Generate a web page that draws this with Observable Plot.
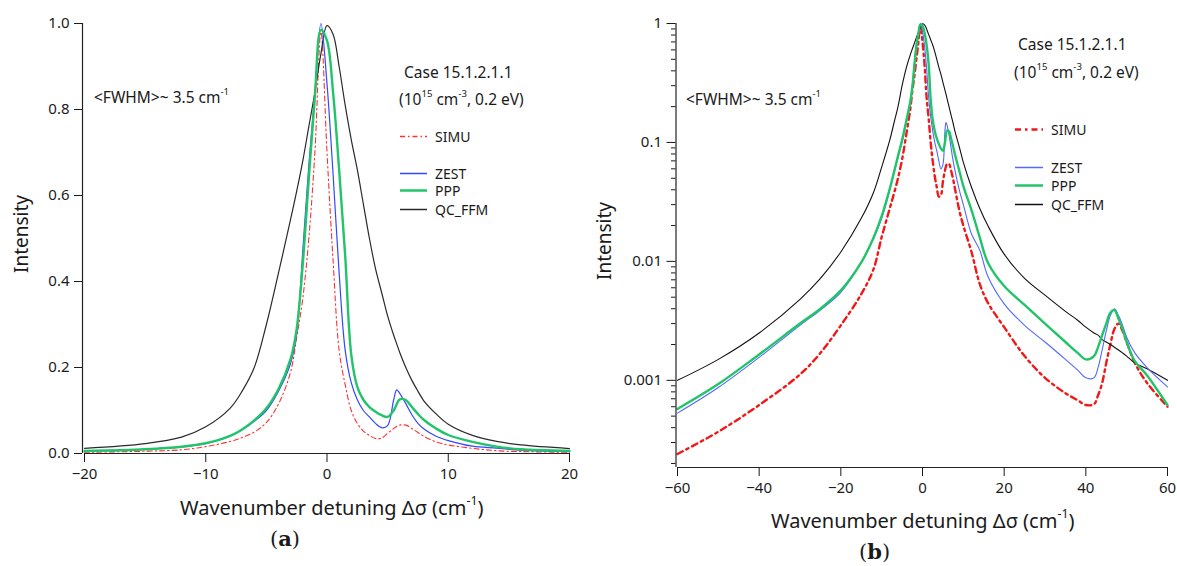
<!DOCTYPE html>
<html><head><meta charset="utf-8">
<script src="https://cdn.jsdelivr.net/npm/d3@7"></script>
<script src="https://cdn.jsdelivr.net/npm/@observablehq/plot@0.6"></script>
<style>
body{margin:0;background:#fff;}
#wrap{position:relative;width:1177px;height:566px;overflow:hidden;font-family:"Noto Sans",sans-serif;color:#1a1a1a;}
.t{position:absolute;white-space:nowrap;line-height:1;transform:translateY(-50%);}
.panel{position:absolute;top:0;}
sup{font-size:0.62em;position:relative;top:-0.2em;vertical-align:super;line-height:0;}
.leg{position:absolute;display:flex;align-items:center;white-space:nowrap;transform:translateY(-50%);font-size:14px;}
</style></head><body><div id="wrap"></div><script>
// ---- data ----
const xs = [-60,-50,-40,-30,-25,-20,-15,-12,-10,-8,-7,-6,-5,-4,-3,-2.5,-2,-1.5,-1,-0.5,0,0.5,1,1.5,2,2.5,3,3.5,4,4.5,5,5.5,5.75,6,6.5,7,7.5,8,9,10,12,14,16,20,25,30,35,38,40,42,43,44,45,46,47,48,49,50,52,55,60];
const simu  = [0.00024,0.00037,0.00062,0.00112,0.0017,0.0029,0.0053,0.0086,0.016,0.028,0.037,0.05,0.072,0.115,0.19,0.27,0.36,0.5,0.7,0.98,0.7,0.45,0.24,0.16,0.1,0.07,0.052,0.042,0.035,0.036,0.047,0.058,0.063,0.066,0.066,0.058,0.049,0.04,0.027,0.02,0.012,0.0065,0.0045,0.0028,0.0016,0.00105,0.00078,0.00068,0.00062,0.00063,0.00075,0.00095,0.0014,0.002,0.0027,0.003,0.0026,0.0021,0.0014,0.00095,0.0006];
const zest  = [0.00053,0.00087,0.00156,0.0029,0.0039,0.0055,0.0098,0.0155,0.023,0.04,0.055,0.075,0.1,0.145,0.21,0.28,0.47,0.67,0.84,1.0,0.86,0.65,0.42,0.24,0.165,0.125,0.1,0.085,0.07,0.06,0.065,0.125,0.148,0.14,0.116,0.09,0.07,0.057,0.04,0.03,0.017,0.0125,0.0075,0.0044,0.0029,0.0021,0.0015,0.00122,0.00105,0.00105,0.00128,0.0018,0.0026,0.0035,0.004,0.0035,0.0029,0.0023,0.0017,0.00128,0.00088];
const ppp   = [0.000575,0.00093,0.00165,0.003,0.004,0.0057,0.0098,0.0158,0.024,0.041,0.056,0.077,0.105,0.15,0.22,0.29,0.44,0.64,0.83,0.985,0.96,0.84,0.66,0.46,0.23,0.155,0.125,0.108,0.097,0.089,0.085,0.1,0.115,0.126,0.124,0.108,0.092,0.078,0.058,0.043,0.027,0.016,0.0098,0.0062,0.0043,0.003,0.0021,0.0017,0.0015,0.0016,0.0019,0.0024,0.003,0.0037,0.0039,0.0033,0.0027,0.0021,0.00145,0.0011,0.00062];
const qcffm = [0.001,0.0015,0.0025,0.0048,0.0072,0.012,0.023,0.038,0.062,0.105,0.145,0.2,0.3,0.42,0.545,0.61,0.68,0.76,0.84,0.93,0.995,0.975,0.9,0.81,0.73,0.66,0.58,0.5,0.43,0.375,0.32,0.275,0.255,0.235,0.2,0.17,0.145,0.122,0.092,0.068,0.042,0.028,0.02,0.0115,0.0072,0.0052,0.0038,0.0032,0.0028,0.0025,0.0024,0.0022,0.0021,0.002,0.0019,0.0018,0.0017,0.0016,0.0014,0.00125,0.001];
const seriesNames = ["SIMU","ZEST","PPP","QC_FFM"];
const seriesValues = [simu, zest, ppp, qcffm];
const xDomainA = [-20, 20], xTicksA = [-20,-10,0,10,20];
const yDomainA = [0, 1], yTicksA = [0,0.2,0.4,0.6,0.8,1.0];
const xDomainB = [-60, 60], xTicksB = [-60,-40,-20,0,20,40,60];
const yDomainB = [0.000185, 1], yTicksB = [0.001,0.01,0.1,1];
const minorMultiples = [2,3,4,5,6,7,8,9], minorDecades = [0.0001,0.001,0.01,0.1];

// ---- styles ----
const styleA = {
  SIMU:{stroke:"#ff3030",w:1.1,dash:"5,3,1.5,3"},
  ZEST:{stroke:"#3347ff",w:1.2,dash:null},
  PPP:{stroke:"#22c46a",w:2.4,dash:null},
  QC_FFM:{stroke:"#2a2a2a",w:1.2,dash:null}};
const styleB = {
  SIMU:{stroke:"#f01818",w:2.4,dash:"6,4,2.5,4"},
  ZEST:{stroke:"#5468ff",w:1.1,dash:null},
  PPP:{stroke:"#22c46a",w:2.4,dash:null},
  QC_FFM:{stroke:"#111",w:1.1,dash:null}};

const data = seriesNames.flatMap((s,k)=>xs.map((x,i)=>({s, x, y: seriesValues[k][i]})));
const drawOrder = ["SIMU","QC_FFM","ZEST","PPP"];
function lines(st, filt){
  return drawOrder.map(s=>Plot.line(data.filter(d=>d.s===s && filt(d)),{x:"x",y:"y",stroke:st[s].stroke,strokeWidth:st[s].w,strokeDasharray:st[s].dash,curve:"catmull-rom"}));
}
const wrap = document.getElementById("wrap");
const font = {fontFamily:"'Noto Sans', sans-serif", fontSize:"15px", color:"#1a1a1a", background:"transparent", overflow:"visible"};

const plotA = Plot.plot({
  width:590, height:566, marginLeft:84, marginRight:21, marginTop:23, marginBottom:113,
  style:font,
  x:{domain:xDomainA, label:null},
  y:{domain:yDomainA, label:null},
  marks:[
    ...lines(styleA, d=>d.x>=xDomainA[0] && d.x<=xDomainA[1]),
    Plot.ruleY([yDomainA[0]],{stroke:"#222",strokeWidth:1.2}),
    Plot.ruleX([xDomainA[0]],{stroke:"#222",strokeWidth:1.2,dx:-2}),
    Plot.axisX({ticks:xTicksA, tickSize:9, tickPadding:6, label:null}),
    Plot.axisY({ticks:yTicksA, tickFormat:d3.format(".1f"), tickSize:8, tickPadding:5, label:null, dx:-2})
  ]
});
plotA.classList.add("panel"); plotA.style.left="0px";
wrap.appendChild(plotA);

const minorTicks = minorDecades.flatMap(d=>minorMultiples.map(m=>m*d)).filter(v=>v>=yDomainB[0] && v<=yDomainB[1]);
const plotB = Plot.plot({
  width:587, height:566, marginLeft:87, marginRight:10, marginTop:23, marginBottom:99,
  style:font,
  x:{domain:xDomainB, label:null},
  y:{type:"log", domain:yDomainB, label:null},
  marks:[
    ...lines(styleB, d=>true),
    Plot.ruleY([yDomainB[0]],{stroke:"#222",strokeWidth:1.2}),
    Plot.ruleX([xDomainB[0]],{stroke:"#222",strokeWidth:1.2,dx:-1.5}),
    Plot.axisX({ticks:xTicksB, tickSize:9, tickPadding:6, label:null}),
    Plot.axisY({ticks:yTicksB, tickFormat:d=>String(d), tickSize:9, tickPadding:5, label:null, dx:-1.5}),
    Plot.axisY({ticks:minorTicks, tickFormat:()=>"", tickSize:4.5, label:null, dx:-1.5})
  ]
});
plotB.classList.add("panel"); plotB.style.left="590px";
wrap.appendChild(plotB);

// ---- text ----
function txt(html, left, cy, size, extra){
  const d=document.createElement("div"); d.className="t"; d.innerHTML=html;
  d.style.left=left+"px"; d.style.top=cy+"px"; d.style.fontSize=size+"px";
  if(extra) Object.assign(d.style, extra);
  wrap.appendChild(d); return d;
}
function vlabel(html, cx, cy, size){
  const d=document.createElement("div"); d.className="t"; d.innerHTML=html;
  d.style.left=cx+"px"; d.style.top=cy+"px"; d.style.fontSize=size+"px";
  d.style.transform="translate(-50%,-50%) rotate(-90deg)";
  wrap.appendChild(d);
}
function legend(st, lx, len, tx, ys, size){
  seriesNames.forEach((s,i)=>{
    const d=document.createElement("div"); d.className="leg";
    d.style.left=lx+"px"; d.style.top=ys[i]+"px"; d.style.fontSize=size+"px";
    const w=Math.max(st[s].w,1.5);
    d.innerHTML=`<svg width="${len}" height="6" style="margin-right:${tx-lx-len}px"><line x1="0" x2="${len}" y1="3" y2="3" stroke="${st[s].stroke}" stroke-width="${w}" ${st[s].dash?`stroke-dasharray="${st[s].dash}"`:""}/></svg><span>${s}</span>`;
    wrap.appendChild(d);
  });
}
const fwhm = "&lt;FWHM&gt;~ 3.5 cm<sup>-1</sup>";
const caseT = "Case 15.1.2.1.1";
const condT = "(10<sup>15</sup> cm<sup>-3</sup>, 0.2 eV)";
const xlab = "Wavenumber detuning Δσ (cm<sup>-1</sup>)";

// panel a
vlabel("Intensity", 21, 234, 19);
txt(fwhm, 94, 98, 15.5);
txt(caseT, 404, 73, 15.5);
txt(condT, 399, 100, 15.5);
legend(styleA, 400, 27, 435, [136,173,190,209], 14);
txt(xlab, 180, 508, 20);
txt("(<b>a</b>)", 270, 539, 21, {fontFamily:"'DejaVu Serif', serif"});
// panel b
vlabel("Intensity", 604, 241, 19);
txt(fwhm, 686, 100, 15.5);
txt(caseT, 1018, 45, 15.5);
txt(condT, 1014, 73, 15.5);
legend(styleB, 1015, 28, 1051, [129,167,185,204], 14);
txt(xlab, 771, 521, 20);
txt("(<b>b</b>)", 859, 552, 21, {fontFamily:"'DejaVu Serif', serif"});
</script></body></html>
